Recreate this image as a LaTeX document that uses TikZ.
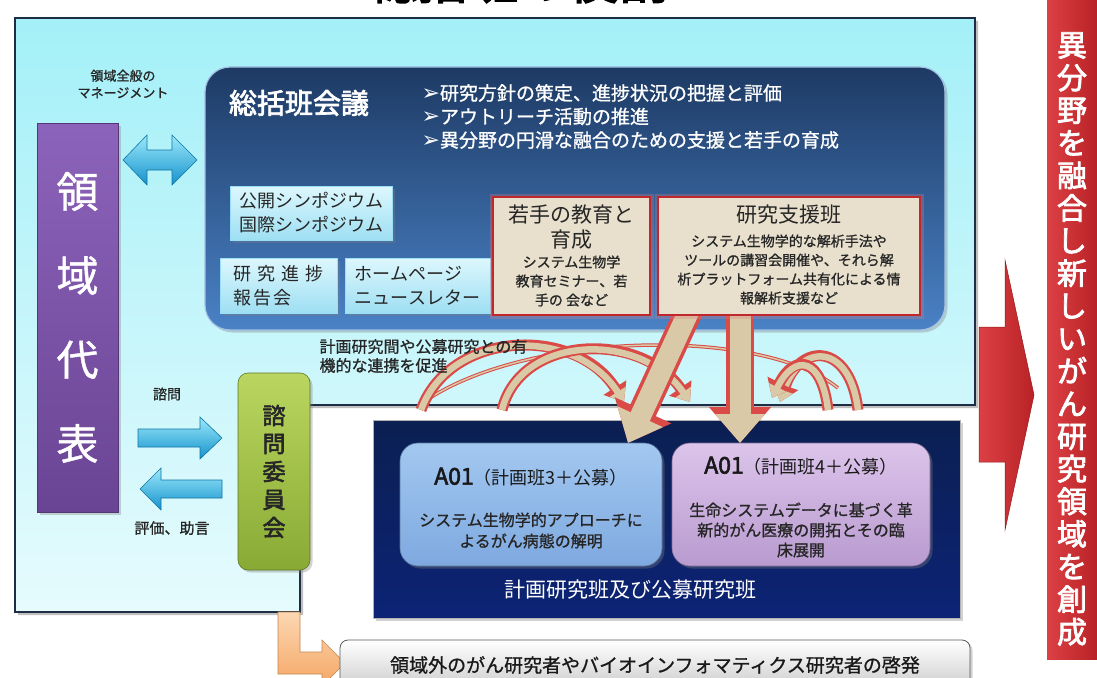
\documentclass[tikz,border=0pt]{standalone}
\usepackage{fontspec}
\newfontfamily\jp{Noto Sans CJK JP}
\newfontfamily\jpm{Noto Sans CJK JP}[FakeBold=1]
\newfontfamily\jpb{Noto Sans CJK JP}[FakeBold=2.5]
\newfontfamily\dv{DejaVu Sans}
\usetikzlibrary{arrows.meta,shadows}
\newcommand\fsz[2]{\fontsize{#1}{#2}\selectfont}
\definecolor{panelTop}{HTML}{A4F0F8}
\definecolor{panelBot}{HTML}{E6FBFD}
\definecolor{panelLine}{HTML}{1E2D45}
\definecolor{councilTop}{HTML}{1D3A64}
\definecolor{councilMid}{HTML}{2A558E}
\definecolor{councilBot}{HTML}{4A82C6}
\definecolor{skyTop}{HTML}{DDF7FD}
\definecolor{skyBot}{HTML}{9EDFF3}
\definecolor{beige}{HTML}{E8E0CD}
\definecolor{boxRed}{HTML}{C0282D}
\definecolor{navy}{HTML}{0E2766}
\definecolor{aBlueTop}{HTML}{A3C8F0}
\definecolor{aBlueBot}{HTML}{7EA9E0}
\definecolor{aLilTop}{HTML}{DCC4EA}
\definecolor{aLilBot}{HTML}{B99BD0}
\definecolor{purpTop}{HTML}{8C63BA}
\definecolor{purpBot}{HTML}{6A4494}
\definecolor{greenTop}{HTML}{BAD660}
\definecolor{greenBot}{HTML}{88AA34}
\definecolor{cyanTop}{HTML}{9BE9FB}
\definecolor{cyanMid}{HTML}{2CC0EE}
\definecolor{cyanBot}{HTML}{1592CC}
\definecolor{redTop}{HTML}{DC4044}
\definecolor{redBot}{HTML}{B82226}
\definecolor{ribbonC}{HTML}{D9C9A6}
\definecolor{ribbonRed}{HTML}{D42A26}
\definecolor{orTop}{HTML}{FCD7B2}
\definecolor{orBot}{HTML}{F5A765}
\tikzset{
  shadowy/.style={drop shadow={shadow xshift=2.5pt,shadow yshift=-2.5pt,opacity=0.35}},
  council/.style={rounded corners=25pt, draw=councilBot!50!white, line width=1.2pt,
    top color=councilTop, middle color=councilMid, bottom color=councilBot,
    minimum width=740pt, minimum height=263pt, inner sep=0, shadowy},
  smallbox/.style={draw=white!60!cyan, line width=0.8pt, top color=skyTop, bottom color=skyBot,
    shadowy, inner sep=0, text=black!85, font={\jp\fsz{18}{24}}, align=left},
  beigebox/.style={draw=boxRed, line width=2.2pt, fill=beige, inner sep=0,
    preaction={draw=boxRed!60, line width=7pt, opacity=0.3}},
  abox/.style={rounded corners=18pt, line width=0.6pt, inner sep=0, shadowy,
    minimum height=123pt},
  cyanarrow/.style={draw=cyanBot!80!black, line width=0.6pt, top color=cyanTop,
    middle color=cyanMid, bottom color=cyanBot},
  ribbonOut/.style={draw=ribbonRed!85, line width=11pt, -{Triangle[width=26pt,length=17pt]}},
  ribbonIn/.style={draw=ribbonC, line width=6.5pt, -{Triangle[width=18pt,length=12pt]}},
  bigOut/.style={draw=ribbonRed!85, line width=28pt, -{Triangle[width=60pt,length=36pt]}},
  bigIn/.style={draw=ribbonC, line width=21pt, -{Triangle[width=48pt,length=29pt]}},
}
\newcommand\ribbonpath[1]{\draw[ribbonOut] #1; \draw[ribbonIn] #1;}
\newcommand\bul{{\dv\fsz{22}{23.5}➢}}
\begin{document}
\begin{tikzpicture}[x=1pt,y=-1pt]
\useasboundingbox (0,0) rectangle (1097,677);
\clip (0,0) rectangle (1097,677);
\fill[white] (0,0) rectangle (1097,677);

% title (cut off at top)
\node[font={\jpb\fsz{50}{56}}, anchor=base, inner sep=0] (title) at (518,-1) {総括班の役割};

% outer light panel
\fill[black!25] (18,21) -- (978,21) -- (978,408) -- (303,408) -- (303,615) -- (18,615) -- cycle;
\path[draw=panelLine, line width=2pt, top color=panelTop, bottom color=panelBot]
  (15,18) -- (975,18) -- (975,405) -- (300,405) -- (300,612) -- (15,612) -- cycle;

% council box
\node[council] (council) at (575,198.5) {};
\node[font={\jpb\fsz{28}{32}}, text=white] (councilTitle) at (299,103) {総括班会議};
\node[anchor=west, align=left, text=white, font={\jpm\fsz{19}{23.5}}] (aims) at (418,116.5)
  {\bul 研究方針の策定、進捗状況の把握と評価\\
   \bul アウトリーチ活動の推進\\
   \bul 異分野の円滑な融合のための支援と若手の育成};

% small boxes
\node[smallbox, minimum width=162pt, minimum height=54pt] (sympo) at (311,213) {公開シンポジウム\\国際シンポジウム};
\node[smallbox, minimum width=117pt, minimum height=55pt] (report) at (278.5,285.5) {研\hspace{6pt}究\hspace{6pt}進\hspace{6pt}捗\\報\hspace{2pt}告\hspace{2pt}会};
\node[smallbox, minimum width=145pt, minimum height=55pt] (web) at (417.5,285.5) {ホームページ\\ニュースレター};

% navy box of research groups
\node[draw=gray!60, line width=0.8pt, top color=navy!80!black, bottom color=navy!90!blue,
  minimum width=587pt, minimum height=198pt, inner sep=0, shadowy] (groups) at (666.5,519) {};

% ribbons (curved linking arrows)
\draw[draw=ribbonRed!85, line width=3.5pt] (421,404) .. controls (520,332) and (760,325) .. (838,388);
\draw[draw=ribbonC, line width=1.5pt] (421,404) .. controls (520,332) and (760,325) .. (838,388);
\ribbonpath{(421,410) .. controls (450,330) and (575,325) .. (624,402)}
\ribbonpath{(502,410) .. controls (520,335) and (640,330) .. (690,402)}
\ribbonpath{(858,410) .. controls (850,342) and (800,342) .. (780,402)}
\ribbonpath{(828,410) .. controls (822,358) and (795,352) .. (772,398)}

% big arrows from support team
\coordinate (d1) at (694,300);
\coordinate (d1e) at (628,443);
\coordinate (v1) at (740,300);
\coordinate (v1e) at (740,443);
\draw[bigOut] (d1) -- (d1e);
\draw[bigIn] (d1) -- (d1e);
\draw[bigOut] (v1) -- (v1e);
\draw[bigIn] (v1) -- (v1e);

% beige boxes
\node[beigebox, minimum width=157pt, minimum height=118pt] (youth) at (571.5,256) {};
\node[font={\jp\fsz{21}{25}}, text=black!85, align=center] (youthT) at (571.5,227.5) {若手の教育と\\育成};
\node[font={\jpm\fsz{14}{19}}, text=black!85, align=center] (youthS) at (571.5,281) {システム生物学\\教育セミナー、若\\手の 会など};
\node[beigebox, minimum width=262pt, minimum height=118pt] (support) at (789,256) {};
\node[font={\jp\fsz{21}{25}}, text=black!85] (supportT) at (789,215) {研究支援班};
\node[font={\jpm\fsz{14}{19}}, text=black!85, align=center] (supportS) at (789,269.5)
  {システム生物学的な解析手法や\\ツールの講習会開催や、それら解\\析プラットフォーム共有化による情\\報解析支援など};

% text about collaboration
\node[anchor=west, align=left, font={\jpm\fsz{16}{19}}, text=black!85] (collab) at (316,356) {計画研究間や公募研究との有\\機的な連携を促進};

% A01 boxes
\node[abox, draw=aBlueBot!70!black, top color=aBlueTop, bottom color=aBlueBot, minimum width=262pt] (a01a) at (531,504.5) {};
\node[font={\jp\fsz{18}{22}}, text=black!90] (a01aT) at (531,477) {{\jpb\fsz{23}{22}A01}（計画班3＋公募）};
\node[font={\jpm\fsz{16}{21}}, text=black!85, align=center] (a01aS) at (531,530.5) {システム生物学的アプローチに\\よるがん病態の解明};
\node[abox, draw=aLilBot!70!black, top color=aLilTop, bottom color=aLilBot, minimum width=258pt] (a01b) at (801,504.5) {};
\node[font={\jp\fsz{18}{22}}, text=black!90] (a01bT) at (801,466) {{\jpb\fsz{23}{22}A01}（計画班4＋公募）};
\node[font={\jpm\fsz{16}{20}}, text=black!85, align=center] (a01bS) at (801,530) {生命システムデータに基づく革\\新的がん医療の開拓とその臨\\床展開};
\node[font={\jp\fsz{21}{24}}, text=white] (groupsLbl) at (630,590) {計画研究班及び公募研究班};

% left representative
\node[draw=purpBot!80!black, line width=0.6pt, top color=purpTop, bottom color=purpBot,
  minimum width=81pt, minimum height=389pt, text=white, font={\jpm\fsz{42}{84}}, align=center,
  inner sep=0, shadowy] (rep) at (77.5,317.5) {領\\域\\代\\表};
\node[font={\jpm\fsz{13}{17}}, align=center, text=black!85] (mgmt) at (123,84) {領域全般の\\マネージメント};
\path[cyanarrow] (123,160) -- (147,135) -- (147,150) -- (172,150) -- (172,135) -- (197,160)
  -- (172,185) -- (172,170) -- (147,170) -- (147,185) -- cycle;

% advisory committee
\node[rounded corners=10pt, draw=greenBot!70!black, line width=0.6pt, top color=greenTop, bottom color=greenBot,
  minimum width=72pt, minimum height=197pt, font={\jpb\fsz{23}{28}}, text=black!85, align=center,
  inner sep=0, shadowy] (advisory) at (274,471.5) {諮\\問\\委\\員\\会};
\node[font={\jpm\fsz{14}{17}}, text=black!85] (askLbl) at (167,394) {諮問};
\node[font={\jpm\fsz{15}{18}}, text=black!85] (evalLbl) at (172,528) {評価、助言};
\path[cyanarrow] (138,429) -- (200,429) -- (200,417) -- (222,438) -- (200,459) -- (200,447) -- (138,447) -- cycle;
\path[cyanarrow] (222,480) -- (161,480) -- (161,468) -- (140,489) -- (161,510) -- (161,498) -- (222,498) -- cycle;

% outreach
\path[draw=orBot!80!black, line width=0.6pt, top color=orTop, bottom color=orBot]
  (278,612) -- (300,612) -- (300,652) -- (322,652) -- (322,640) -- (345,663) -- (322,686) -- (322,674) -- (278,674) -- cycle;
\node[rounded corners=8pt, draw=gray!70!black, line width=0.8pt, top color=white, bottom color=gray!40,
  minimum width=630pt, minimum height=50pt, font={\jpm\fsz{19}{22}}, text=black!90, inner sep=0, shadowy] (outreach) at (655,665)
  {領域外のがん研究者やバイオインフォマティクス研究者の啓発};

% red goal
\path[draw=redBot!80!black, line width=0.5pt, left color=redTop, right color=redBot]
  (979,327) -- (1005,327) -- (1005,260) -- (1034,395) -- (1005,530) -- (1005,462) -- (979,462) -- cycle;
\node[left color=redTop, right color=redBot, minimum width=50pt, minimum height=660pt, inner sep=0] (goal) at (1072,329) {};
\node[font={\jpb\fsz{30}{32.6}}, text=white, align=center] (goalT) at (1072,339)
  {異\\分\\野\\を\\融\\合\\し\\新\\し\\い\\が\\ん\\研\\究\\領\\域\\を\\創\\成};
\end{tikzpicture}
\end{document}
